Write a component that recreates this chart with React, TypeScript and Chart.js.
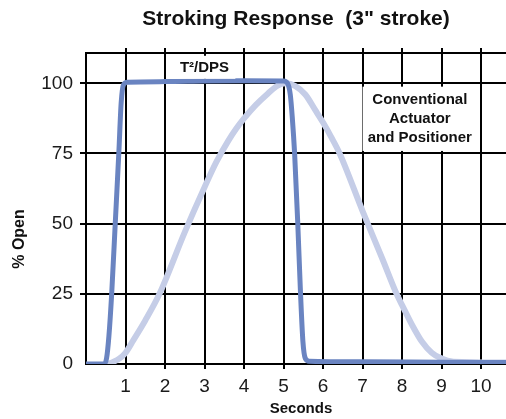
import React, { useEffect, useRef } from "react";
import { Chart, registerables } from "chart.js";

Chart.register(...registerables);

const TITLE = 'Stroking Response  (3" stroke)';
const X_TITLE = "Seconds";
const Y_TITLE = "% Open";
const X_TICKS = [0, 1, 2, 3, 4, 5, 6, 7, 8, 9, 10];
const Y_TICKS = [0, 25, 50, 75, 100];
const X_MAX = 10.63;
const Y_MAX = 110.9;

const DPS_LABEL = "T\u00B2/DPS";
const DPS_X = [0, 0.45, 0.52, 0.58, 0.65, 0.74, 0.83, 0.89, 0.95, 1.05, 2, 3, 4, 5, 5.1, 5.17, 5.22, 5.28, 5.36, 5.43, 5.49, 5.55, 5.65, 7, 9, 10.63];
const DPS_Y = [0, 0, 2, 10, 25, 50, 75, 93, 99.5, 100.4, 100.6, 100.8, 100.9, 100.8, 100, 96, 88, 75, 50, 25, 8, 2, 1, 0.8, 0.6, 0.5];

const CONV_LABEL = ["Conventional", "Actuator", "and Positioner"];
const CONV_X = [0.55, 0.7, 0.85, 1.0, 1.2, 1.5, 1.86, 2.5, 3.0, 3.3, 3.6, 3.8, 4.0, 4.3, 4.6, 4.85, 5.05, 5.3, 5.55, 5.8, 6.0, 6.2, 6.42, 7.0, 7.5, 7.86, 8.0, 8.25, 8.5, 8.75, 8.96, 9.3, 10.63];
const CONV_Y = [0, 0.8, 2, 4, 8.5, 15.5, 25, 47, 63, 72, 79.5, 83.8, 87.5, 92.3, 96.3, 99.2, 100, 99, 96, 90.5, 86, 81, 75, 54.5, 37.5, 25, 21, 14, 8, 4, 2.2, 0.8, 0.5];

const FONT = "'Liberation Sans', Arial, Helvetica, sans-serif";
const DARK = "#6a84c1";
const LIGHT = "#c5cde7";

// annotation placements in data coordinates
const DPS_NOTE = { x: 3.0, y: 105.6, x0: 2.27, x1: 3.78, y0: 101.6, y1: 109.8 };
const CONV_NOTE = { x: 8.45, y: 87.4, x0: 7.0, x1: 9.93, y0: 75.9, y1: 98.8 };

const extraPlugin = {
  id: "extraGrid",
  beforeDatasetsDraw(chart: any) {
    const { ctx, chartArea, scales } = chart;
    const { left, right, top } = chartArea;
    const x = scales.x;
    ctx.save();
    ctx.strokeStyle = "#000";
    ctx.lineWidth = 2;
    ctx.beginPath();
    const t = Math.round(top);
    ctx.moveTo(left - 1, t);
    ctx.lineTo(right, t);
    X_TICKS.forEach((v) => {
      if (v === 0) return;
      const px = Math.round(x.getPixelForValue(v));
      ctx.moveTo(px, t - 5);
      ctx.lineTo(px, t);
    });
    ctx.stroke();
    ctx.restore();
  },
  afterDatasetsDraw(chart: any) {
    const { ctx, scales } = chart;
    const x = scales.x;
    const y = scales.y;
    ctx.save();
    ctx.fillStyle = "#fff";
    [DPS_NOTE, CONV_NOTE].forEach((n) => {
      const px0 = x.getPixelForValue(n.x0);
      const px1 = x.getPixelForValue(n.x1);
      const py0 = y.getPixelForValue(n.y1);
      const py1 = y.getPixelForValue(n.y0);
      ctx.fillRect(px0, py0, px1 - px0, py1 - py0);
    });
    ctx.fillStyle = "#111";
    ctx.textAlign = "center";
    ctx.textBaseline = "middle";
    ctx.font = `bold 15px ${FONT}`;
    ctx.fillText(DPS_LABEL, x.getPixelForValue(DPS_NOTE.x), y.getPixelForValue(DPS_NOTE.y));
    const cx = x.getPixelForValue(CONV_NOTE.x);
    const cy = y.getPixelForValue(CONV_NOTE.y);
    CONV_LABEL.forEach((s, i) => {
      ctx.fillText(s, cx, cy + (i - 1) * 19);
    });
    // axis titles
    ctx.font = `bold 15px ${FONT}`;
    ctx.fillText(X_TITLE, 301, 409);
    ctx.save();
    ctx.translate(20, 239);
    ctx.rotate(-Math.PI / 2);
    ctx.font = `bold 16px ${FONT}`;
    ctx.fillText(Y_TITLE, 0, 0);
    ctx.restore();
    ctx.restore();
  },
};

export default function App() {
  const ref = useRef<HTMLCanvasElement | null>(null);
  useEffect(() => {
    if (!ref.current) return;
    const chart = new Chart(ref.current, {
      type: "line",
      data: {
        datasets: [
          {
            label: DPS_LABEL,
            data: DPS_X.map((v, i) => ({ x: v, y: DPS_Y[i] })),
            borderColor: DARK,
            borderWidth: 5,
            pointRadius: 0,
            cubicInterpolationMode: "monotone",
            borderJoinStyle: "round",
            borderCapStyle: "round",
          },
          {
            label: CONV_LABEL.join(" "),
            data: CONV_X.map((v, i) => ({ x: v, y: CONV_Y[i] })),
            borderColor: LIGHT,
            borderWidth: 6,
            pointRadius: 0,
            cubicInterpolationMode: "monotone",
            borderJoinStyle: "round",
            borderCapStyle: "round",
          },
        ],
      },
      options: {
        responsive: false,
        animation: false,
        devicePixelRatio: 1,
        layout: { padding: 0 },
        plugins: {
          legend: { display: false },
          tooltip: { enabled: false },
          title: {
            display: true,
            text: TITLE,
            fullSize: false,
            color: "#111",
            font: { family: FONT, size: 21, weight: "bold" },
            padding: { top: 7, bottom: 20.5 },
          },
        },
        scales: {
          x: {
            type: "linear",
            min: 0,
            max: X_MAX,
            afterBuildTicks: (s: any) => {
              s.ticks = X_TICKS.map((v) => ({ value: v }));
            },
            afterFit: (s: any) => {
              s.height = 55;
            },
            grid: {
              color: "#000",
              lineWidth: 2,
              tickLength: 5,
              tickColor: (c: any) => (c.tick && c.tick.value === 0 ? "rgba(0,0,0,0)" : "#000"),
            },
            border: { display: true, color: "#000", width: 2 },
            ticks: {
              autoSkip: false,
              maxRotation: 0,
              padding: 6,
              color: "#1a1a1a",
              font: { family: FONT, size: 19 },
              callback: (v: any) => (v === 0 ? "" : String(v)),
            },
            title: { display: false, text: X_TITLE },
          },
          y: {
            type: "linear",
            min: 0,
            max: Y_MAX,
            afterBuildTicks: (s: any) => {
              s.ticks = Y_TICKS.map((v) => ({ value: v }));
            },
            afterFit: (s: any) => {
              s.width = 86;
            },
            grid: {
              color: "#000",
              lineWidth: 2,
              tickLength: 6,
              tickColor: (c: any) => (c.tick && c.tick.value === 0 ? "rgba(0,0,0,0)" : "#000"),
            },
            border: { display: true, color: "#000", width: 2 },
            ticks: {
              padding: 7,
              color: "#1a1a1a",
              font: { family: FONT, size: 19 },
            },
            title: { display: false, text: Y_TITLE },
          },
        },
      },
      plugins: [extraPlugin],
    } as any);
    return () => chart.destroy();
  }, []);
  return (
    <div style={{ position: "absolute", left: 0, top: 0, width: 506, height: 419, background: "#fff" }}>
      <canvas ref={ref} width={506} height={419} />
    </div>
  );
}
